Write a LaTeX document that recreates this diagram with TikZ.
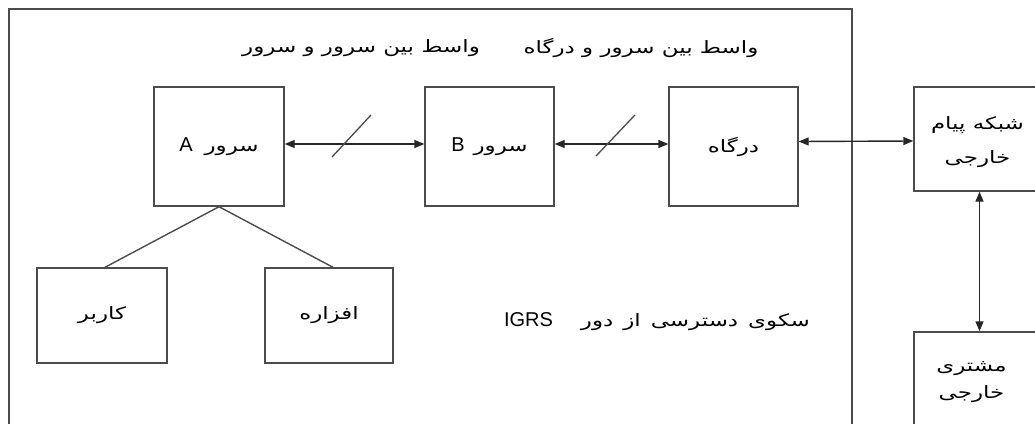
\documentclass[tikz,border=0pt]{standalone}
\usepackage{fontspec}
\setmainfont{Liberation Sans}
\newfontfamily\fa[Script=Arabic,FakeStretch=1.35]{DejaVu Sans}
\TeXXeTstate=1
\usetikzlibrary{arrows.meta,calc}
\tikzset{
  box/.style={draw=black!70, line width=1.4pt, rectangle, inner sep=0pt,
    align=center, font=\fa\fontsize{17}{38}\selectfont},
  boxtext/.style={inner sep=0pt, align=center},
  link/.style={line width=1.4pt, draw=black!85,
    {Triangle[length=10pt,width=8pt]}-{Triangle[length=10pt,width=8pt]}},
  tree/.style={line width=1.4pt, draw=black!70},
  slashline/.style={line width=1.3pt, draw=black!70},
  label/.style={font=\fa\fontsize{17}{20}\selectfont, inner sep=0pt}
}
\newcommand{\lat}[1]{{\rmfamily\fontsize{20}{22}\selectfont #1}}
\begin{document}
\begin{tikzpicture}[x=1pt,y=-1pt]
\useasboundingbox (0,0) rectangle (1035,423);
\clip (0,0) rectangle (1035,423);
\fill[white] (0,0) rectangle (1035,423);

% platform frame
\draw[black!70, line width=1.4pt] (9,440) -- (9,9) -- (852,9) -- (852,440);

% upper row: servers and gateway
\node[box, minimum width=130pt, minimum height=119pt] (A) at (219,146.5)
  {\beginR سرور\hspace{12pt}\lat{A}\endR};
\node[box, minimum width=129pt, minimum height=119pt] (B) at (489.5,146.5)
  {\beginR سرور\hspace{9pt}\lat{B}\endR};
\node[box, minimum width=129pt, minimum height=119pt] (gw) at (733.5,146.5)
  {\beginR درگاه\endR};

% lower row: user and device
\node[box, minimum width=130pt, minimum height=95pt] (user) at (102,315.5)
  {\beginR کاربر\endR};
\node[box, minimum width=128pt, minimum height=95pt] (dev) at (329,315.5)
  {\beginR افزاره\endR};

% outside the platform
\node[box, minimum width=131pt, minimum height=104pt] (net) at (979.5,139) {};
\node[boxtext, font=\fa\fontsize{17}{34}\selectfont] (nettext)
  at ($(net.center)+(-2,3)$)
  {\beginR شبکه پیام\endR\\\beginR خارجی\endR};
\node[box, minimum width=131pt, minimum height=118pt] (cli) at (979.5,391) {};
\node[boxtext, font=\fa\fontsize{17}{27}\selectfont] (clitext)
  at ($(cli.center)+(-8,-9)$)
  {\beginR مشتری\endR\\\beginR خارجی\endR};

% labels
\node[label] (l1) at (361,48) {\beginR واسط بین سرور و سرور\endR};
\node[label] (l2) at (641,48) {\beginR واسط بین سرور و درگاه\endR};
\node[label] (l3) at (657,322)
  {\spaceskip=10pt\relax\beginR سکوی دسترسی از دور\hspace{28pt}\beginL\lat{IGRS}\endL\endR};

% connectors
\draw[link] ([yshift=2.5pt]A.east) -- ([yshift=2.5pt]B.west);
\draw[link] ([yshift=2.5pt]B.east) -- ([yshift=2.5pt]gw.west);
\draw[link] ([yshift=5pt]gw.east) -- ([yshift=-2pt]net.west);
\draw[link] (net.south) -- (cli.north);
\draw[tree] (A.south) -- ($(user.north)+(3,0)$);
\draw[tree] (A.south) -- ($(dev.north)+(4,0)$);

% slash marks on the server links
\draw[slashline] (332,157) -- (371,115);
\draw[slashline] (596,156) -- (635,115);
\end{tikzpicture}
\end{document}
